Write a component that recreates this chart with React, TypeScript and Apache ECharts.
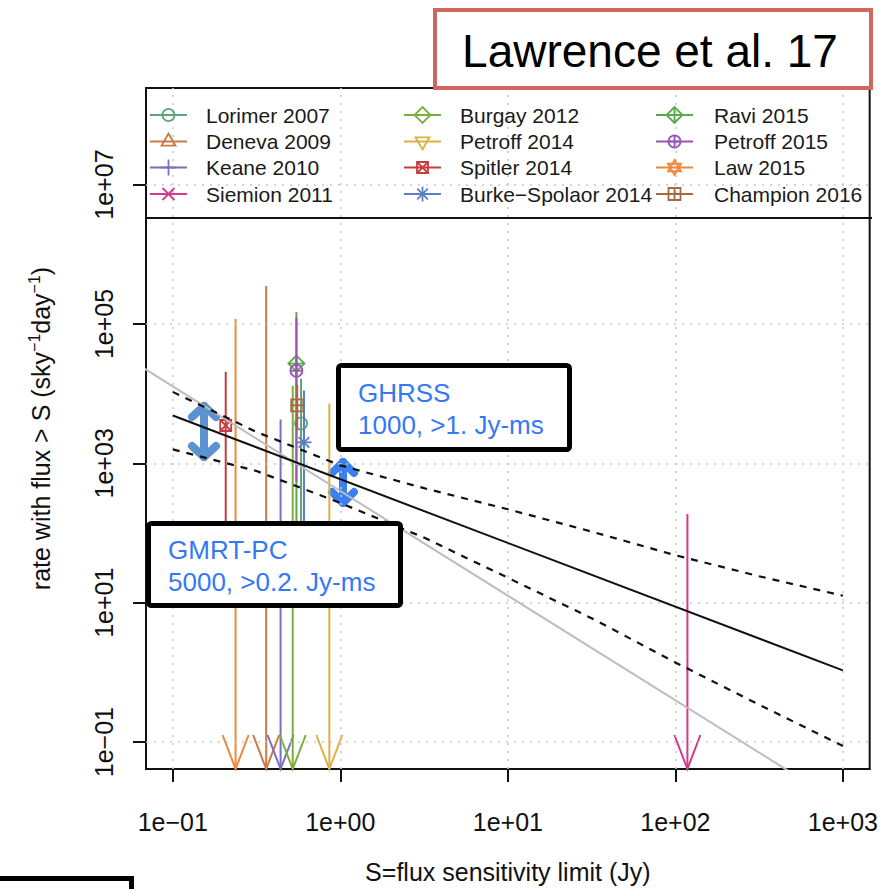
import React, { useEffect, useRef } from "react";
import * as echarts from "echarts";

const FONT = '"Liberation Sans", Arial, Helvetica, sans-serif';

// Axis ticks (decades) and their labels
const xTicks = [0.1, 1, 10, 100, 1000];
const xTickLabels = ["1e\u221201", "1e+00", "1e+01", "1e+02", "1e+03"];
const yTicks = [0.1, 10, 1e3, 1e5, 1e7];
const yTickLabels = ["1e\u221201", "1e+01", "1e+03", "1e+05", "1e+07"];

// Surveys, in legend order
const surveyNames = [
  "Lorimer 2007", "Deneva 2009", "Keane 2010", "Siemion 2011",
  "Burgay 2012", "Petroff 2014", "Spitler 2014", "Burke\u2212Spolaor 2014",
  "Ravi 2015", "Petroff 2015", "Law 2015", "Champion 2016",
];
const surveyColors = [
  "#5fa37e", "#c97a47", "#7a6fc0", "#d43a8c",
  "#7cae3e", "#dcb045", "#c83a3e", "#5b7ec4",
  "#58aa48", "#9a55b3", "#ef8838", "#a5693f",
];
// R plotting symbol used for each survey
const surveyPch = [1, 2, 3, 4, 5, 6, 7, 8, 9, 10, 11, 12];
// flux sensitivity limit (Jy)
const surveyFlux = [0.583, 0.361, 0.44, 118, 0.52, 0.86, 0.207, 0.607, 0.547, 0.547, 0.237, 0.553];
// rate estimate (sky^-1 day^-1); null for surveys without a detection
const surveyRate = [3730, null, null, null, null, null, 3490, 2000, 2.7e4, 2.13e4, null, 6800];
// top of each range
const surveyHigh = [1.64e4, 3.5e5, 4250, 187, 1.3e4, 7200, 2.06e4, 1.11e4, 1.48e5, 1.22e5, 1.18e5, 1.35e4];
// bottom of each range; null = upper limit, drawn as an arrow to the floor
const surveyLow = [60, null, null, null, null, null, 40, 50, 80, 540, null, 3000];

// power-law fit and its confidence band
const fitFlux = [0.1, 1000];
const fitRate = [4850, 1.07];
const bandFlux = [0.1, 0.316, 1, 3.16, 10, 31.6, 100, 316, 1000];
const bandUpper = [1.06e4, 2820, 935, 440, 219, 105, 48, 24, 12.6];
const bandLower = [1585, 776, 270, 86, 22.8, 6.0, 1.39, 0.344, 0.088];
// Euclidean (S^-3/2) reference line
const euclidFlux = [0.05, 600];
const euclidRate = [3.6e4, 0.027];

function tickLabel(value: number, ticks: number[], labels: string[]) {
  const k = ticks.findIndex((t) => Math.abs(Math.log10(t) - Math.log10(value)) < 1e-6);
  return k >= 0 ? labels[k] : "";
}

function seg(x1: number, y1: number, x2: number, y2: number, color: string, w = 1.8) {
  return { type: "line", shape: { x1, y1, x2, y2 }, style: { stroke: color, lineWidth: w } };
}

function poly(points: number[][], color: string, w = 1.8) {
  return { type: "polygon", shape: { points }, style: { stroke: color, fill: "none", lineWidth: w } };
}

// R-style open plotting symbols (pch 1..12)
function markerElements(pch: number, cx: number, cy: number, color: string): any[] {
  const circ = (r: number) => ({
    type: "circle",
    shape: { cx, cy, r },
    style: { stroke: color, fill: "none", lineWidth: 1.8 },
  });
  const plus = (r: number) => [seg(cx - r, cy, cx + r, cy, color), seg(cx, cy - r, cx, cy + r, color)];
  const cross = (r: number) => [seg(cx - r, cy - r, cx + r, cy + r, color), seg(cx - r, cy + r, cx + r, cy - r, color)];
  const diamond = (r: number) => poly([[cx, cy - r], [cx + r, cy], [cx, cy + r], [cx - r, cy]], color);
  const square = (r: number) => poly([[cx - r, cy - r], [cx + r, cy - r], [cx + r, cy + r], [cx - r, cy + r]], color);
  const triUp = (r: number) => poly([[cx, cy - r * 1.15], [cx + r, cy + r * 0.6], [cx - r, cy + r * 0.6]], color);
  const triDown = (r: number) => poly([[cx, cy + r * 1.15], [cx + r, cy - r * 0.6], [cx - r, cy - r * 0.6]], color);
  switch (pch) {
    case 1: return [circ(6)];
    case 2: return [triUp(7)];
    case 3: return plus(8);
    case 4: return cross(6);
    case 5: return [diamond(8)];
    case 6: return [triDown(7)];
    case 7: return [square(5.5), ...cross(5.5)];
    case 8: return [...plus(7.5), ...cross(5.3)];
    case 9: return [diamond(8), ...plus(8)];
    case 10: return [circ(6), ...plus(6)];
    case 11: return [
      poly([[cx, cy - 7.5], [cx + 6.5, cy + 3.75], [cx - 6.5, cy + 3.75]], color),
      poly([[cx, cy + 7.5], [cx + 6.5, cy - 3.75], [cx - 6.5, cy - 3.75]], color),
    ];
    case 12: return [square(6), ...plus(6)];
    default: return [];
  }
}

// legend layout (pixels)
const legendLineX = [150, 404, 656];
const legendTextX = [206, 460, 714];
const legendRowY = [115, 141.5, 167.5, 194];

function buildLegend(): any[] {
  const out: any[] = [];
  surveyNames.forEach((name, i) => {
    const col = Math.floor(i / 4);
    const row = i % 4;
    const lx = legendLineX[col];
    const ly = legendRowY[row];
    const color = surveyColors[i];
    out.push({ type: "line", z: 10, shape: { x1: lx, y1: ly, x2: lx + 37, y2: ly }, style: { stroke: color, lineWidth: 1.8 } });
    markerElements(surveyPch[i], lx + 18.5, ly, color).forEach((el) => out.push({ ...el, z: 11 }));
    out.push({
      type: "text",
      z: 11,
      x: legendTextX[col],
      y: ly,
      style: { text: name, font: `21px ${FONT}`, fill: "#1a1a1a", align: "left", verticalAlign: "middle" },
    });
  });
  return out;
}

function doubleArrow(cx: number, y1: number, y2: number, wing: number, color: string): any {
  const w = 8;
  const stroke = { stroke: color, lineWidth: w, lineCap: "round", lineJoin: "round", fill: "none" };
  return {
    type: "group",
    z: 40,
    children: [
      { type: "line", shape: { x1: cx, y1: y1 + 4, x2: cx, y2: y2 - 4 }, style: stroke },
      { type: "polyline", shape: { points: [[cx - wing, y1 + 15], [cx, y1 + 4], [cx + wing, y1 + 15]] }, style: stroke },
      { type: "polyline", shape: { points: [[cx - wing, y2 - 15], [cx, y2 - 4], [cx + wing, y2 - 15]] }, style: stroke },
    ],
  };
}

function textBox(x: number, y: number, w: number, h: number, lines: string[], tx: number, ty: number[]): any[] {
  const out: any[] = [
    { type: "rect", z: 50, shape: { x, y, width: w, height: h, r: 3 }, style: { fill: "#fff", stroke: "#000", lineWidth: 5 } },
  ];
  lines.forEach((t, k) =>
    out.push({
      type: "text",
      z: 51,
      x: tx,
      y: ty[k],
      style: { text: t, font: `26px ${FONT}`, fill: "#3478f6", align: "left", verticalAlign: "middle" },
    })
  );
  return out;
}

export default function App() {
  const ref = useRef<HTMLDivElement | null>(null);

  useEffect(() => {
    if (!ref.current) return;
    const chart = echarts.init(ref.current, null, { renderer: "svg" });

    const surveySeries = {
      type: "custom",
      name: "surveys",
      z: 3,
      silent: true,
      data: surveyFlux.map((f, i) => [f, surveyHigh[i]]),
      encode: { x: 0, y: 1 },
      renderItem: (params: any, api: any) => {
        const i = params.dataIndex;
        const color = surveyColors[i];
        const cs = params.coordSys;
        const floor = cs.y + cs.height;
        const top = api.coord([surveyFlux[i], surveyHigh[i]]);
        const x = top[0];
        const children: any[] = [];
        const low = surveyLow[i];
        if (low != null) {
          const lo = api.coord([surveyFlux[i], low]);
          children.push(seg(x, top[1], x, lo[1], color, 2));
        } else {
          children.push(seg(x, top[1], x, floor, color, 2));
          children.push({
            type: "polyline",
            shape: { points: [[x - 13, floor - 34], [x, floor], [x + 13, floor - 34]] },
            style: { stroke: color, lineWidth: 2, fill: "none" },
          });
        }
        const rate = surveyRate[i];
        if (rate != null) {
          const p = api.coord([surveyFlux[i], rate]);
          markerElements(surveyPch[i], p[0], p[1], color).forEach((el) => children.push(el));
        }
        return { type: "group", children };
      },
    };

    const option: any = {
      animation: false,
      backgroundColor: "#ffffff",
      textStyle: { fontFamily: FONT },
      grid: {
        left: 146,
        right: 9,
        top: 88,
        bottom: 117,
        show: true,
        borderColor: "#111",
        borderWidth: 2,
        backgroundColor: "transparent",
      },
      xAxis: {
        type: "log",
        logBase: 10,
        min: 0.0692,
        max: 1445,
        name: "S=flux sensitivity limit (Jy)",
        nameLocation: "middle",
        nameGap: 90,
        nameTextStyle: { fontFamily: FONT, fontSize: 25, color: "#111" },
        axisLine: { show: true, onZero: false, lineStyle: { color: "#111", width: 2 } },
        axisTick: { show: true, customValues: xTicks, length: 13, lineStyle: { color: "#111", width: 2 } },
        axisLabel: {
          customValues: xTicks,
          margin: 40,
          fontFamily: FONT,
          fontSize: 25,
          color: "#111",
          formatter: (v: number) => tickLabel(v, xTicks, xTickLabels),
        },
        splitLine: { show: false },
        minorTick: { show: false },
      },
      yAxis: {
        type: "log",
        logBase: 10,
        min: 0.0411,
        max: 2.43e8,
        name: "{a|rate with flux > S (sky}{s|\u22121}{a|day}{s|\u22121}{a|)}",
        nameLocation: "middle",
        nameGap: 90,
        nameRotate: 90,
        nameTextStyle: {
          fontFamily: FONT,
          color: "#111",
          rich: {
            a: { fontFamily: FONT, fontSize: 25, lineHeight: 30, color: "#111" },
            s: { fontFamily: FONT, fontSize: 16, lineHeight: 18, verticalAlign: "top", color: "#111" },
          },
        },
        axisLine: { show: true, onZero: false, lineStyle: { color: "#111", width: 2 } },
        axisTick: { show: true, customValues: yTicks, length: 13, lineStyle: { color: "#111", width: 2 } },
        axisLabel: {
          customValues: yTicks,
          rotate: 90,
          margin: 30,
          fontFamily: FONT,
          fontSize: 25,
          color: "#111",
          formatter: (v: number) => tickLabel(v, yTicks, yTickLabels),
        },
        splitLine: { show: false },
        minorTick: { show: false },
      },
      series: [
        {
          type: "line",
          name: "grid",
          z: 1,
          silent: true,
          data: [],
          markLine: {
            silent: true,
            symbol: ["none", "none"],
            label: { show: false },
            animation: false,
            lineStyle: { color: "#c9c9c9", type: [2, 6], width: 1.6 },
            data: [
              ...xTicks.map((v) => ({ xAxis: v })),
              ...yTicks.map((v) => ({ yAxis: v })),
            ],
          },
        },
        surveySeries,
        {
          type: "line",
          name: "euclidean",
          z: 4,
          silent: true,
          symbol: "none",
          clip: true,
          data: euclidFlux.map((f, i) => [f, euclidRate[i]]),
          lineStyle: { color: "#bdbdbd", width: 2 },
        },
        {
          type: "line",
          name: "fit",
          z: 5,
          silent: true,
          symbol: "none",
          data: fitFlux.map((f, i) => [f, fitRate[i]]),
          lineStyle: { color: "#111", width: 2 },
        },
        {
          type: "line",
          name: "band upper",
          z: 5,
          silent: true,
          symbol: "none",
          data: bandFlux.map((f, i) => [f, bandUpper[i]]),
          lineStyle: { color: "#111", width: 2.2, type: [7, 7] },
        },
        {
          type: "line",
          name: "band lower",
          z: 5,
          silent: true,
          symbol: "none",
          data: bandFlux.map((f, i) => [f, bandLower[i]]),
          lineStyle: { color: "#111", width: 2.2, type: [7, 7] },
        },
      ],
      graphic: [
        { type: "line", z: 10, shape: { x1: 146, y1: 218, x2: 872, y2: 218 }, style: { stroke: "#111", lineWidth: 2 } },
        ...buildLegend(),
        doubleArrow(204, 402, 461, 12, "#5a93cf"),
        doubleArrow(343, 458, 507, 11, "#3b7ff0"),
        ...textBox(338.5, 365.5, 231, 84, ["GHRSS", "1000, >1. Jy-ms"], 358, [393, 425]),
        ...textBox(148.5, 523.5, 252, 82, ["GMRT-PC", "5000, >0.2. Jy-ms"], 168, [550, 582]),
        {
          type: "rect",
          z: 60,
          shape: { x: 435, y: 10, width: 436, height: 78 },
          style: { fill: "#fff", stroke: "#d0675f", lineWidth: 4 },
        },
        {
          type: "text",
          z: 61,
          x: 650,
          y: 51,
          style: { text: "Lawrence et al. 17", font: `46px ${FONT}`, fill: "#000", align: "center", verticalAlign: "middle" },
        },
        {
          type: "rect",
          z: 60,
          shape: { x: -10, y: 878.5, width: 141.5, height: 30 },
          style: { fill: "#fff", stroke: "#000", lineWidth: 5 },
        },
      ],
    };

    chart.setOption(option);
    return () => chart.dispose();
  }, []);

  return (
    <div
      ref={ref}
      style={{ position: "fixed", left: 0, top: 0, width: 881, height: 889, background: "#fff" }}
    />
  );
}
